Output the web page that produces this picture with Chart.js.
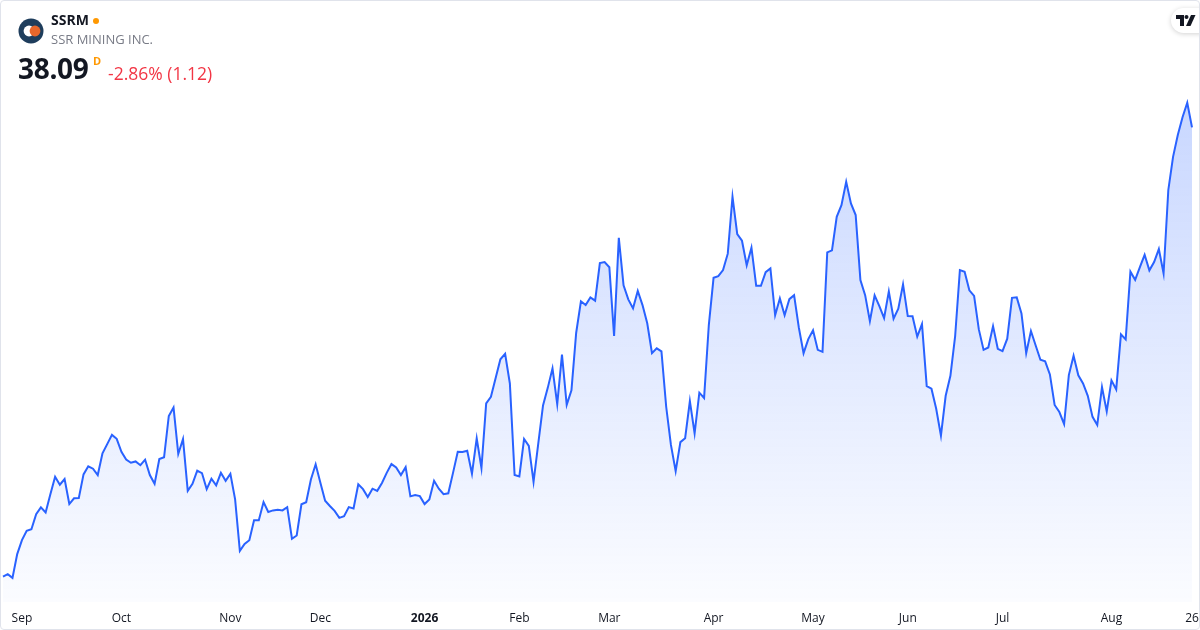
<!DOCTYPE html>
<html>
<head>
<meta charset="utf-8">
<script src="https://cdn.jsdelivr.net/npm/chart.js@4.4.1/dist/chart.umd.min.js"></script>
<style>
  html, body { margin: 0; padding: 0; background: #fff; overflow: hidden; }
  #wrap { position: relative; width: 1200px; height: 630px; font-family: "Open Sans", sans-serif; }
  #wrap canvas { position: absolute; left: 0; top: 0; }
  #frame { position: absolute; left: 0; top: 0; width: 1198px; height: 628px; border: 1px solid #e0e3eb; border-radius: 4px; pointer-events: none; }
  .t { position: absolute; white-space: nowrap; line-height: 1; }
  #sym { left: 51px; top: 13px; font-size: 14px; font-weight: 700; color: #131722; }
  #dot { position: absolute; left: 93px; top: 18px; width: 6px; height: 6px; border-radius: 50%; background: #ff9800; }
  #name { left: 51px; top: 33px; font-size: 13px; color: #787b86; }
  #price { left: 18px; top: 54px; font-size: 28px; font-weight: 700; color: #131722; letter-spacing: -0.3px; }
  #dflag { left: 93px; top: 55px; font-size: 11px; font-weight: 700; color: #ff9800; }
  #chg { left: 108px; top: 65px; font-size: 17.5px; color: #f23645; }
  #tv { position: absolute; left: 1171px; top: 8px; width: 40px; height: 25px; border-radius: 13px; background: #fff; box-shadow: 0 1px 5px rgba(0,0,0,0.18); }
</style>
</head>
<body>
<div id="wrap">
  <canvas id="chart" width="1200" height="630"></canvas>
  <svg class="t" style="left:18px;top:18px" width="26" height="26" viewBox="0 0 26 26">
    <circle cx="13" cy="13" r="12.5" fill="#1e3d5c"/>
    <circle cx="11" cy="13" r="5.4" fill="#ffffff"/>
    <circle cx="17" cy="13" r="5.4" fill="#e8672c"/>
  </svg>
  <div class="t" id="sym">SSRM</div>
  <div id="dot"></div>
  <div class="t" id="name">SSR MINING INC.</div>
  <div class="t" id="price">38.09</div>
  <div class="t" id="dflag">D</div>
  <div class="t" id="chg">-2.86% (1.12)</div>
  <div id="tv">
    <svg style="position:absolute;left:5px;top:7px" width="20" height="11" viewBox="0 0 20 11">
      <path d="M0 0 H8 V11 H4 V4 H0 Z" fill="#131722"/>
      <circle cx="10.5" cy="2" r="2" fill="#131722"/>
      <path d="M15 0 H19.5 L14.5 11 H10 Z" fill="#131722"/>
    </svg>
  </div>
  <div id="frame"></div>
</div>
<script>
// closing prices, one per trading day
const prices = [
  17.63, 17.75, 17.58, 18.66, 19.30, 19.72, 19.79, 20.48, 20.79, 20.56,
  21.39, 22.18, 21.82, 22.08, 20.94, 21.20, 21.21, 22.29, 22.66, 22.55,
  22.26, 23.25, 23.67, 24.09, 23.91, 23.32, 22.97, 22.82, 22.88, 22.71,
  22.96, 22.26, 21.86, 22.99, 23.07, 24.95, 25.34, 23.22, 23.90, 21.54,
  21.86, 22.46, 22.35, 21.62, 22.09, 21.79, 22.36, 22.00, 22.32, 21.15,
  18.81, 19.12, 19.29, 20.20, 20.20, 21.03, 20.58, 20.65, 20.68, 20.65,
  20.80, 19.36, 19.51, 20.93, 21.02, 22.06, 22.75, 21.91, 21.09, 20.85,
  20.63, 20.31, 20.39, 20.80, 20.74, 21.84, 21.62, 21.26, 21.64, 21.54,
  21.90, 22.36, 22.76, 22.61, 22.26, 22.62, 21.29, 21.35, 21.30, 20.94,
  21.15, 22.00, 21.64, 21.39, 21.43, 22.36, 23.32, 23.31, 23.37, 22.32,
  23.93, 22.58, 25.52, 25.82, 26.68, 27.53, 27.78, 26.43, 22.26, 22.20,
  23.90, 23.59, 21.95, 23.70, 25.43, 26.23, 27.12, 25.49, 27.74, 25.46,
  26.12, 28.74, 30.17, 30.00, 30.35, 30.20, 31.91, 31.96, 31.72, 28.59,
  33.06, 30.90, 30.26, 29.85, 30.64, 30.00, 29.17, 27.81, 28.03, 27.89,
  25.37, 23.63, 22.44, 23.76, 23.94, 25.63, 24.16, 26.01, 25.77, 29.09,
  31.24, 31.32, 31.59, 32.34, 34.93, 33.23, 32.93, 31.81, 32.61, 30.88,
  30.88, 31.50, 31.67, 29.54, 30.30, 29.54, 30.27, 30.45, 28.98, 27.81,
  28.45, 28.85, 27.96, 27.87, 32.40, 32.49, 34.02, 34.55, 35.61, 34.63,
  34.10, 31.14, 30.45, 29.27, 30.44, 29.95, 29.41, 30.62, 29.38, 29.83,
  30.94, 29.50, 29.49, 28.56, 29.13, 26.31, 26.19, 25.28, 24.05, 25.87,
  26.78, 28.59, 31.59, 31.52, 30.67, 30.42, 28.89, 27.96, 28.07, 29.04,
  28.01, 27.90, 28.47, 30.33, 30.35, 29.62, 27.81, 28.82, 28.16, 27.51,
  27.44, 26.84, 25.45, 25.13, 24.58, 26.81, 27.69, 26.80, 26.43, 25.87,
  24.91, 24.54, 26.27, 25.16, 26.57, 26.16, 28.67, 28.44, 31.52, 31.15,
  31.73, 32.29, 31.58, 31.96, 32.55, 31.44, 35.24, 36.75, 37.74, 38.55,
  39.21, 38.09
];

// x axis labels and the day they sit on
const tickLabels = ['Sep', 'Oct', 'Nov', 'Dec', '2026', 'Feb', 'Mar', 'Apr', 'May', 'Jun', 'Jul', 'Aug', '26'];
const tickIndex  = [4, 25, 48, 67, 89, 109, 128, 150, 171, 191, 211, 234, 251];

const labels = prices.map((_, i) => {
  const k = tickIndex.indexOf(i);
  return k >= 0 ? tickLabels[k] : '';
});

const ctx = document.getElementById('chart').getContext('2d');

function areaFill(c) {
  const area = c.chart.chartArea;
  if (!area) return 'rgba(41,98,255,0.1)';
  const g = c.chart.ctx.createLinearGradient(0, area.top, 0, area.bottom);
  g.addColorStop(0, 'rgba(41,98,255,0.30)');
  g.addColorStop(1, 'rgba(41,98,255,0.02)');
  return g;
}

new Chart(ctx, {
  type: 'line',
  data: {
    labels: labels,
    datasets: [{
      data: prices,
      borderColor: '#2962ff',
      borderWidth: 2,
      backgroundColor: areaFill,
      fill: 'start',
      pointRadius: 0,
      tension: 0
    }]
  },
  options: {
    responsive: false,
    animation: false,
    layout: { padding: { left: 3, right: 8, top: 0, bottom: 0 } },
    plugins: { legend: { display: false }, tooltip: { enabled: false } },
    scales: {
      x: {
        type: 'category',
        offset: false,
        grid: { display: false, drawTicks: false },
        border: { display: false },
        // fixed axis height; let the last label hang into the right margin
        afterFit: s => { s.height = 28; s.paddingLeft = 0; s.paddingRight = 0; },
        ticks: {
          autoSkip: false,
          maxRotation: 0,
          minRotation: 0,
          padding: 9,
          color: '#131722',
          font: c => ({ family: 'Open Sans', size: 12, weight: c.tick && c.tick.label === '2026' ? '700' : '400' }),
          callback: function (v) {
            const l = this.getLabelForValue(v);
            return l === '' ? null : l;
          }
        }
      },
      y: { display: false, min: 16.48, max: 43.89 }
    }
  }
});
</script>
</body>
</html>
